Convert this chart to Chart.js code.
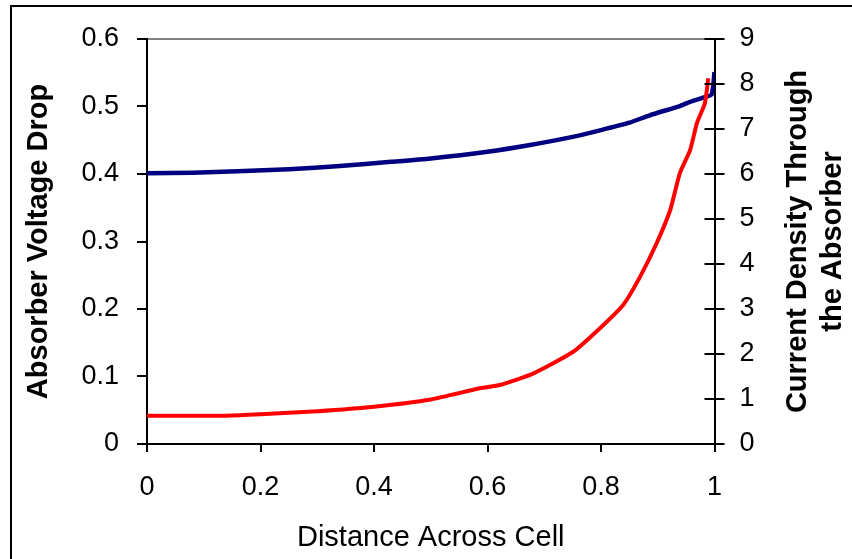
<!DOCTYPE html>
<html lang="en">
<head>
<meta charset="UTF-8">
<title>Absorber Voltage Drop and Current Density</title>
<script src="https://cdn.jsdelivr.net/npm/chart.js"></script>
<style>
  html, body { margin: 0; padding: 0; background: #fff; }
  #wrap { position: relative; width: 852px; height: 559px; }
</style>
</head>
<body>
<div id="wrap"><canvas id="myChart" width="852" height="559"></canvas></div>
<script>
  // blue curve: absorber voltage drop (left axis)
  const voltageX = [0, 0.08, 0.16, 0.25, 0.34, 0.43, 0.5, 0.6, 0.675, 0.75, 0.8, 0.85, 0.886, 0.94, 0.957, 0.98, 0.995, 1.0];
  const voltageDrop = [0.401, 0.402, 0.404, 0.407, 0.412, 0.418, 0.423, 0.433, 0.443, 0.455, 0.465, 0.476, 0.487, 0.501, 0.507, 0.513, 0.518, 0.551];

  // red curve: current density through the absorber (right axis)
  const currentX = [0, 0.14, 0.2, 0.3, 0.4, 0.5, 0.587, 0.622, 0.681, 0.751, 0.792, 0.839, 0.869, 0.898, 0.922, 0.939, 0.957, 0.969, 0.983, 0.989];
  const currentDensity = [0.63, 0.63, 0.66, 0.73, 0.83, 0.99, 1.24, 1.31, 1.57, 2.05, 2.5, 3.09, 3.72, 4.46, 5.2, 6.02, 6.53, 7.13, 7.57, 8.13];

  // tick labels
  const xTicks = [0, 0.2, 0.4, 0.6, 0.8, 1];
  const voltageTicks = [0, 0.1, 0.2, 0.3, 0.4, 0.5, 0.6];
  const currentTicks = [0, 1, 2, 3, 4, 5, 6, 7, 8, 9];

  const xTitle = 'Distance Across Cell';
  const leftTitle = 'Absorber Voltage Drop';
  const rightTitle = ['Current Density Through', 'the Absorber'];

  const FONT = "'Liberation Sans', Arial, sans-serif";

  const toPoints = (xs, ys) => xs.map((x, i) => ({ x: x, y: ys[i] }));
  const fixedTicks = list => scale => { scale.ticks = list.map(v => ({ value: v })); };

  // outer frame, inner tick marks on the right axis, right axis title
  const extras = {
    id: 'extras',
    beforeDraw(chart) {
      const c = chart.ctx;
      c.save();
      c.fillStyle = '#fff';
      c.fillRect(0, 0, chart.width, chart.height);
      c.strokeStyle = '#000';
      c.lineWidth = 2;
      c.strokeRect(11, 6, 1000, 1000);
      c.restore();
    },
    afterDraw(chart) {
      const c = chart.ctx;
      const s = chart.scales.yJ;
      c.save();
      c.strokeStyle = '#000';
      c.lineWidth = 2;
      currentTicks.forEach(v => {
        const y = Math.round(s.getPixelForValue(v));
        c.beginPath();
        c.moveTo(s.left - 10, y);
        c.lineTo(s.left, y);
        c.stroke();
      });
      const mid = (chart.chartArea.top + chart.chartArea.bottom) / 2;
      c.fillStyle = '#000';
      c.font = 'bold 29px ' + FONT;
      c.textAlign = 'center';
      c.textBaseline = 'middle';
      rightTitle.forEach((t, i) => {
        c.save();
        c.translate(s.left + 83 + i * 35, mid);
        c.rotate(-Math.PI / 2);
        c.fillText(t, 0, 0);
        c.restore();
      });
      c.restore();
    }
  };

  const ctx = document.getElementById('myChart').getContext('2d');
  new Chart(ctx, {
    type: 'line',
    data: {
      datasets: [{
        label: 'Current Density Through the Absorber',
        data: toPoints(currentX, currentDensity),
        yAxisID: 'yJ',
        borderColor: '#ff0000',
        borderWidth: 4,
        pointRadius: 0,
        tension: 0.2
      }, {
        label: 'Absorber Voltage Drop',
        data: toPoints(voltageX, voltageDrop),
        yAxisID: 'yV',
        borderColor: '#000080',
        borderWidth: 4.5,
        pointRadius: 0,
        tension: 0.2
      }]
    },
    options: {
      responsive: false,
      animation: false,
      layout: { padding: { top: 39, left: 0, right: 0, bottom: 0 } },
      plugins: { legend: { display: false }, tooltip: { enabled: false } },
      scales: {
        x: {
          type: 'linear',
          min: 0,
          max: 1,
          afterBuildTicks: fixedTicks(xTicks),
          afterFit: s => { s.height = 115; },
          ticks: { color: '#000', padding: 19, maxRotation: 0, font: { family: FONT, size: 27 }, callback: v => String(v) },
          grid: { drawOnChartArea: false, tickLength: 8, color: '#000', lineWidth: 2 },
          border: { color: '#000', width: 2 },
          title: { display: true, text: xTitle, color: '#000', font: { family: FONT, size: 29 }, padding: { top: 0, bottom: 4 } }
        },
        yV: {
          position: 'left',
          min: 0,
          max: 0.6,
          afterBuildTicks: fixedTicks(voltageTicks),
          afterFit: s => { s.width = 147; },
          ticks: { color: '#000', padding: 18, font: { family: FONT, size: 27 }, callback: v => String(v) },
          grid: {
            tickLength: 10,
            lineWidth: 2,
            color: c => (c.tick && c.tick.value === 0.6 ? '#808080' : 'rgba(0,0,0,0)'),
            tickColor: '#000'
          },
          border: { color: '#000', width: 2 },
          title: { display: true, text: leftTitle, color: '#000', font: { family: FONT, size: 29, weight: 'bold' }, padding: { top: 22, bottom: 0 } }
        },
        yJ: {
          position: 'right',
          min: 0,
          max: 9,
          afterBuildTicks: fixedTicks(currentTicks),
          afterFit: s => { s.width = 137.5; },
          ticks: { color: '#000', padding: 15, font: { family: FONT, size: 27 }, callback: v => String(v) },
          grid: { drawOnChartArea: false, tickLength: 10, color: '#000', lineWidth: 2 },
          border: { color: '#000', width: 2 }
        }
      }
    },
    plugins: [extras]
  });
</script>
</body>
</html>
